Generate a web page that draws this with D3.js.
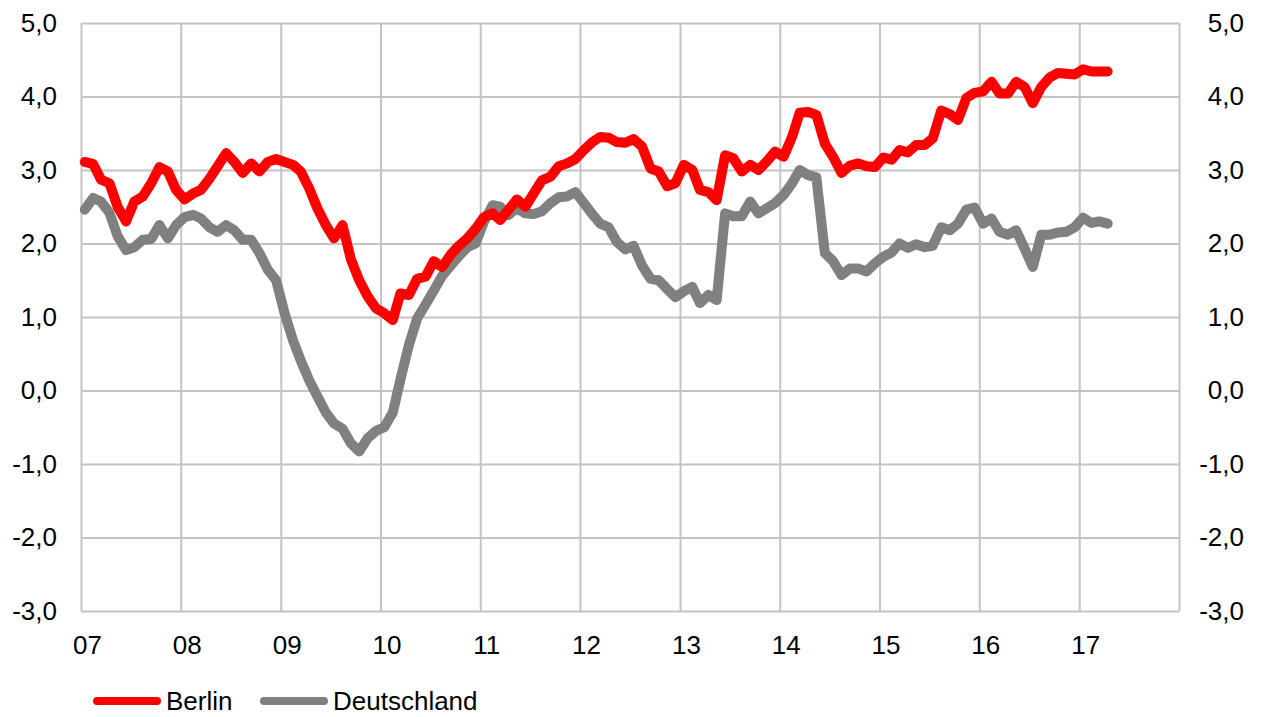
<!DOCTYPE html>
<html>
<head>
<meta charset="utf-8">
<script src="https://cdn.jsdelivr.net/npm/d3@7"></script>
<style>
  html, body { margin: 0; padding: 0; background: #fff; }
  svg { display: block; font-family: "Liberation Sans", Arial, sans-serif; }
</style>
</head>
<body>
<svg id="chart" width="1264" height="717"></svg>
<script>
// Monthly series, Jan 2007 – Apr 2017 (in %)
const months = d3.timeMonth.range(new Date(2007, 0, 1), new Date(2017, 4, 1));

const berlin = [
  3.11, 3.08, 2.87, 2.82, 2.50, 2.30, 2.57, 2.64, 2.82, 3.04, 2.98, 2.73,
  2.60, 2.68, 2.73, 2.88, 3.05, 3.23, 3.11, 2.96, 3.09, 2.98, 3.11, 3.15,
  3.11, 3.07, 2.98, 2.75, 2.48, 2.25, 2.07, 2.25, 1.78, 1.50, 1.28, 1.12,
  1.05, 0.96, 1.32, 1.30, 1.52, 1.55, 1.76, 1.68, 1.85, 1.97, 2.07, 2.20,
  2.36, 2.41, 2.32, 2.46, 2.60, 2.50, 2.68, 2.86, 2.91, 3.05, 3.09, 3.15,
  3.27, 3.38, 3.45, 3.44, 3.38, 3.37, 3.42, 3.32, 3.02, 2.98, 2.78, 2.82,
  3.07, 3.00, 2.73, 2.70, 2.59, 3.20, 3.16, 2.98, 3.07, 3.00, 3.12, 3.25,
  3.18, 3.45, 3.78, 3.79, 3.75, 3.36, 3.18, 2.96, 3.06, 3.09, 3.05, 3.04,
  3.17, 3.14, 3.27, 3.24, 3.34, 3.34, 3.43, 3.81, 3.76, 3.68, 3.98, 4.05,
  4.07, 4.20, 4.04, 4.04, 4.20, 4.13, 3.91, 4.13, 4.26, 4.32, 4.31, 4.30,
  4.37, 4.34, 4.34, 4.34
];

const deutschland = [
  2.46, 2.62, 2.57, 2.42, 2.10, 1.91, 1.95, 2.05, 2.06, 2.25, 2.07, 2.25,
  2.36, 2.39, 2.34, 2.22, 2.16, 2.25, 2.18, 2.05, 2.05, 1.87, 1.64, 1.50,
  1.05, 0.68, 0.41, 0.14, -0.08, -0.30, -0.45, -0.52, -0.72, -0.83, -0.65, -0.55,
  -0.50, -0.30, 0.15, 0.62, 0.98, 1.17, 1.36, 1.56, 1.70, 1.83, 1.95, 2.00,
  2.30, 2.52, 2.50, 2.39, 2.48, 2.41, 2.40, 2.44, 2.55, 2.63, 2.64, 2.70,
  2.55, 2.40, 2.27, 2.22, 2.02, 1.92, 1.97, 1.70, 1.52, 1.50, 1.38, 1.27,
  1.35, 1.41, 1.19, 1.30, 1.23, 2.41, 2.37, 2.37, 2.57, 2.41, 2.48, 2.55,
  2.66, 2.82, 3.00, 2.93, 2.90, 1.87, 1.76, 1.57, 1.66, 1.66, 1.62, 1.73,
  1.82, 1.88, 2.00, 1.94, 1.99, 1.95, 1.97, 2.22, 2.18, 2.27, 2.46, 2.49,
  2.27, 2.34, 2.16, 2.12, 2.18, 1.93, 1.68, 2.12, 2.12, 2.15, 2.16, 2.22,
  2.35, 2.28, 2.30, 2.27
];

const yTicks = [-3, -2, -1, 0, 1, 2, 3, 4, 5];
const yearTicks = d3.range(2007, 2019).map(y => new Date(y, 0, 1));
const yearLabels = ["07", "08", "09", "10", "11", "12", "13", "14", "15", "16", "17"];

const seriesNames = ["Berlin", "Deutschland"];
const seriesColors = ["#ff0000", "#808080"];

// Layout
const plot = { left: 81, right: 1179, top: 23, bottom: 611 };
const fontSize = 26;
const svg = d3.select("#chart");

const x = d3.scaleTime()
  .domain([new Date(2007, 0, 1), new Date(2018, 0, 1)])
  .range([plot.left, plot.right]);
const y = d3.scaleLinear()
  .domain([-3, 5])
  .range([plot.bottom, plot.top]);

const fmt = v => d3.format(".1f")(v).replace(".", ",").replace("−", "-");
const gridColor = "#c4c4c4";
const styleText = g => g.selectAll("text")
  .attr("font-size", fontSize).attr("fill", "#000")
  .attr("font-family", "'Liberation Sans', Arial, sans-serif");

// Horizontal gridlines
svg.append("g")
  .attr("transform", `translate(${plot.left},0)`)
  .call(d3.axisLeft(y).tickValues(yTicks).tickSize(-(plot.right - plot.left)).tickFormat(""))
  .call(g => g.select(".domain").remove())
  .call(g => g.selectAll("line").attr("stroke", gridColor).attr("stroke-width", 2));

// Vertical gridlines (one per year)
svg.append("g")
  .attr("transform", `translate(0,${plot.bottom})`)
  .call(d3.axisBottom(x).tickValues(yearTicks).tickSize(-(plot.bottom - plot.top)).tickFormat(""))
  .call(g => g.select(".domain").remove())
  .call(g => g.selectAll("line").attr("stroke", gridColor).attr("stroke-width", 2));

// Left value axis labels
svg.append("g")
  .attr("transform", `translate(${plot.left},0)`)
  .call(d3.axisLeft(y).tickValues(yTicks).tickSize(0).tickPadding(24).tickFormat(fmt))
  .call(g => g.select(".domain").remove())
  .call(styleText);

// Right value axis labels
svg.append("g")
  .attr("transform", `translate(${plot.right + 65},0)`)
  .call(d3.axisLeft(y).tickValues(yTicks).tickSize(0).tickPadding(0).tickFormat(fmt))
  .call(g => g.select(".domain").remove())
  .call(styleText);

// Year labels
svg.append("g")
  .attr("transform", `translate(6,${plot.bottom})`)
  .call(d3.axisBottom(x).tickValues(yearTicks.slice(0, yearLabels.length)).tickSize(0).tickPadding(25)
    .tickFormat((d, i) => yearLabels[i]))
  .call(g => g.select(".domain").remove())
  .call(styleText);

// Series lines, plotted mid-month
const midMonth = d => d3.timeDay.offset(d, 14);
const line = d3.line()
  .x((d, i) => x(midMonth(months[i])))
  .y(d => y(d));

// Deutschland first so Berlin sits on top
[[deutschland, 1], [berlin, 0]].forEach(([values, idx]) => {
  svg.append("path")
    .datum(values)
    .attr("d", line)
    .attr("fill", "none")
    .attr("stroke", seriesColors[idx])
    .attr("stroke-width", 10)
    .attr("stroke-linejoin", "round")
    .attr("stroke-linecap", "round");
});

// Legend
const legend = svg.append("g").attr("transform", "translate(0,701)");
const legendX = [97, 264];
seriesNames.forEach((name, i) => {
  const g = legend.append("g").attr("transform", `translate(${legendX[i]},0)`);
  g.append("line")
    .attr("x1", 0).attr("x2", 60)
    .attr("y1", 0).attr("y2", 0)
    .attr("stroke", seriesColors[i])
    .attr("stroke-width", 8)
    .attr("stroke-linecap", "round");
  g.append("text")
    .attr("x", 69).attr("y", 9)
    .attr("font-size", fontSize)
    .attr("fill", "#000")
    .text(name);
});
</script>
</body>
</html>
